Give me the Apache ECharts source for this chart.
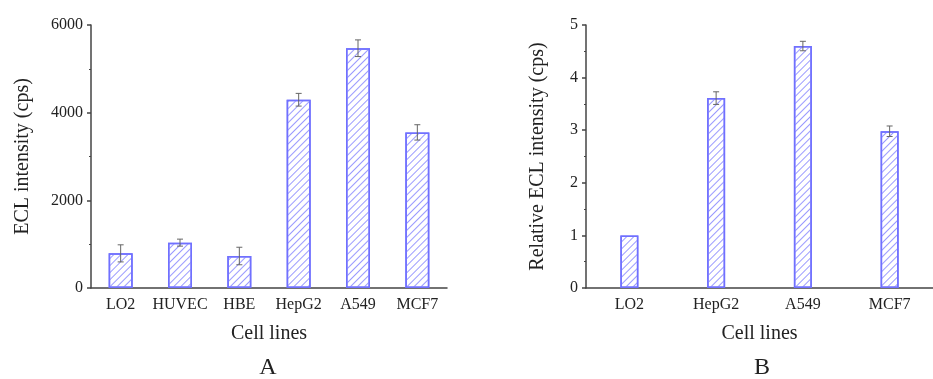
<!DOCTYPE html>
<html>
<head>
<meta charset="utf-8">
<script src="https://cdn.jsdelivr.net/npm/echarts@6/dist/echarts.min.js"></script>
<style>html,body{margin:0;padding:0;background:#fff;}#c{width:933px;height:379px;}</style>
</head>
<body>
<div id="c"></div>
<script>
// Data
var catsA = ['LO2', 'HUVEC', 'HBE', 'HepG2', 'A549', 'MCF7'];
var valsA = [790, 1035, 730, 4295, 5470, 3550];
var errA = [195, 80, 200, 145, 190, 175];
var catsB = ['LO2', 'HepG2', 'A549', 'MCF7'];
var valsB = [1.0, 3.61, 4.60, 2.98];
var errB = [0, 0.12, 0.09, 0.10];
var yTicksA = [0, 2000, 4000, 6000];
var yTicksB = [0, 1, 2, 3, 4, 5];

var FONT = 'Liberation Serif';
var AX = '#444';
var TXT = '#222';

function errSeries(xi, yi, vals, errs) {
  var d = vals.map(function (v, i) { return [i, v, errs[i]]; });
  return {
    type: 'custom', xAxisIndex: xi, yAxisIndex: yi, z: 5, silent: true,
    data: d,
    renderItem: function (params, api) {
      var e = api.value(2);
      if (!e) return null;
      var x = api.value(0), v = api.value(1);
      var hi = api.coord([x, v + e]);
      var lo = api.coord([x, v - e]);
      var w = 3;
      var st = { stroke: '#666', lineWidth: 1 };
      return {
        type: 'group', children: [
          { type: 'line', shape: { x1: hi[0], y1: hi[1], x2: lo[0], y2: lo[1] }, style: st },
          { type: 'line', shape: { x1: hi[0] - w, y1: hi[1], x2: hi[0] + w, y2: hi[1] }, style: st },
          { type: 'line', shape: { x1: lo[0] - w, y1: lo[1], x2: lo[0] + w, y2: lo[1] }, style: st }
        ]
      };
    }
  };
}

function xAxes(gi, cats) {
  return [
    {
      type: 'category', gridIndex: gi, data: cats,
      name: 'Cell lines', nameLocation: 'middle', nameGap: 36,
      nameTextStyle: { fontFamily: FONT, fontSize: 20, color: TXT },
      axisLine: { lineStyle: { color: AX, width: 1.5 } },
      axisTick: { alignWithLabel: true, length: 5, lineStyle: { color: AX, width: 1.5 } },
      axisLabel: { interval: 0, fontFamily: FONT, fontSize: 16, color: TXT, margin: 9 },
      splitLine: { show: false }
    },
    {
      type: 'category', gridIndex: gi, data: cats, position: 'bottom',
      axisLine: { show: false },
      axisTick: { alignWithLabel: false, interval: 0, length: 3, lineStyle: { color: AX, width: 1.2 } },
      axisLabel: { show: false },
      splitLine: { show: false }
    }
  ];
}

function yAxis(gi, name, max, interval, gap) {
  return {
    type: 'value', gridIndex: gi, min: 0, max: max, interval: interval,
    name: name, nameLocation: 'middle', nameGap: gap,
    nameTextStyle: { fontFamily: FONT, fontSize: 20, color: TXT },
    axisLine: { show: true, lineStyle: { color: AX, width: 1.5 } },
    axisTick: { show: true, length: 4, lineStyle: { color: AX, width: 1.5 } },
    minorTick: { show: true, splitNumber: 2, length: 2, lineStyle: { color: AX, width: 1.2 } },
    axisLabel: { fontFamily: FONT, fontSize: 16, color: TXT, margin: 8, formatter: function (v) { return String(v); } },
    splitLine: { show: false }
  };
}

var yA = yAxis(0, 'ECL intensity (cps)', yTicksA[yTicksA.length - 1], yTicksA[1] - yTicksA[0], 58);
var yB = yAxis(1, 'Relative ECL intensity (cps)', yTicksB[yTicksB.length - 1], yTicksB[1] - yTicksB[0], 38);

var barStyle = {
  color: '#ffffff',
  borderColor: '#7070ff', borderWidth: 1.5,
  decal: {
    symbol: 'rect', symbolSize: 1, color: '#9a9aff',
    dashArrayX: [1, 0], dashArrayY: [1, 3.5],
    rotation: -Math.PI / 4
  }
};

var chart = echarts.init(document.getElementById('c'), null, { renderer: 'canvas' });
chart.setOption({
  animation: false,
  backgroundColor: '#fff',
  grid: [
    { left: 91, top: 25, width: 356, height: 263 },
    { left: 586, top: 25, width: 355, height: 263 }
  ],
  xAxis: xAxes(0, catsA).concat(xAxes(1, catsB)),
  yAxis: [yA, yB],
  graphic: [
    { type: 'text', x: 268, y: 368, style: { text: 'A', fontFamily: FONT, fontSize: 24, fill: TXT, align: 'center', verticalAlign: 'middle' } },
    { type: 'text', x: 762, y: 368, style: { text: 'B', fontFamily: FONT, fontSize: 24, fill: TXT, align: 'center', verticalAlign: 'middle' } }
  ],
  series: [
    { type: 'bar', xAxisIndex: 0, yAxisIndex: 0, data: valsA, barWidth: 24, itemStyle: barStyle },
    errSeries(0, 0, valsA, errA),
    { type: 'bar', xAxisIndex: 2, yAxisIndex: 1, data: valsB, barWidth: 18, itemStyle: barStyle },
    errSeries(2, 1, valsB, errB)
  ]
});
</script>
</body>
</html>
